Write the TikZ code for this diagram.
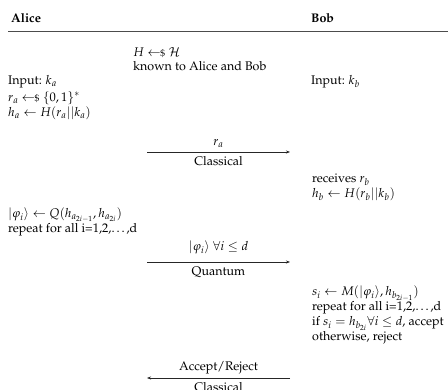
\documentclass[tikz,border=0pt]{standalone}
\usepackage[T1]{fontenc}
\usepackage{mathpazo}
\usetikzlibrary{arrows.meta}
% uniform sampling arrow
\newcommand{\sampleget}{\mathrel{\leftarrow\!\!{\scriptstyle\$}}}
\tikzset{
  txt/.style={anchor=base west, inner sep=0pt, font=\fontsize{12.5}{15}\selectfont},
  lbl/.style={inner sep=0pt, font=\fontsize{12.5}{15}\selectfont},
  msg/.style={-{Stealth[length=4pt,width=3pt]}, line width=0.6pt, draw=black!85},
  rule/.style={line width=0.9pt, draw=black!70}
}
\begin{document}
\begin{tikzpicture}[x=1pt,y=1pt]
\useasboundingbox (0,0) rectangle (448,-390);
% header
\node[txt] (alice) at (11,-23) {\textbf{Alice}};
\node[txt] (bob) at (311,-23) {\textbf{Bob}};
\coordinate (rl) at (8,-31);
\coordinate (rr) at (448,-31);
\draw[rule] (rl) -- (rr);
% shared setup
\node[txt] (hsel) at (133,-57) {$H \sampleget \mathcal{H}$};
\node[txt] (known) at (133,-71) {known to Alice and Bob};
% inputs
\node[txt] (ina) at (8,-85) {Input: $k_a$};
\node[txt] (inb) at (311,-85) {Input: $k_b$};
\node[txt] (ra) at (8,-101.5) {$r_a \sampleget \{0,1\}^*$};
\node[txt] (ha) at (8,-116.5) {$h_a \leftarrow H(r_a||k_a)$};
% first message
\coordinate (m1a) at (147,-152);
\coordinate (m1b) at (290,-152);
\draw[msg] (m1a) -- (m1b);
\node[lbl, anchor=base] (m1t) at (218.5,-146) {$r_a$};
\node[lbl, anchor=base] (m1c) at (218.5,-166) {Classical};
% Bob hashes
\node[txt] (rcv) at (312,-183) {receives $r_b$};
\node[txt] (hb) at (312,-198) {$h_b \leftarrow H(r_b||k_b)$};
% Alice encodes
\node[txt] (phi) at (8,-218) {$|\varphi_i\rangle \leftarrow Q(h_{a_{2i-1}},h_{a_{2i}})$};
\node[txt] (repa) at (8,-233) {repeat for all i=1,2,\ldots,d};
% second message
\coordinate (m2a) at (147,-262);
\coordinate (m2b) at (290,-262);
\draw[msg] (m2a) -- (m2b);
\node[lbl, anchor=base] (m2t) at (218.5,-251) {$|\varphi_i\rangle\ \forall i \le d$};
\node[lbl, anchor=base] (m2c) at (218.5,-276) {Quantum};
% Bob measures
\node[txt] (si) at (312,-296) {$s_i \leftarrow M(|\varphi_i\rangle,h_{b_{2i-1}})$};
\node[txt] (repb) at (312,-311) {repeat for all i=1,2,\ldots,d};
\node[txt] (chk) at (312,-326) {if $s_i = h_{b_{2i}} \forall i \le d$, accept};
\node[txt] (oth) at (312,-341) {otherwise, reject};
% third message
\coordinate (m3a) at (290,-378);
\coordinate (m3b) at (147,-378);
\draw[msg] (m3a) -- (m3b);
\node[lbl, anchor=base] (m3t) at (218.5,-371) {Accept/Reject};
\node[lbl, anchor=base] (m3c) at (218.5,-392) {Classical};
\end{tikzpicture}
\end{document}
